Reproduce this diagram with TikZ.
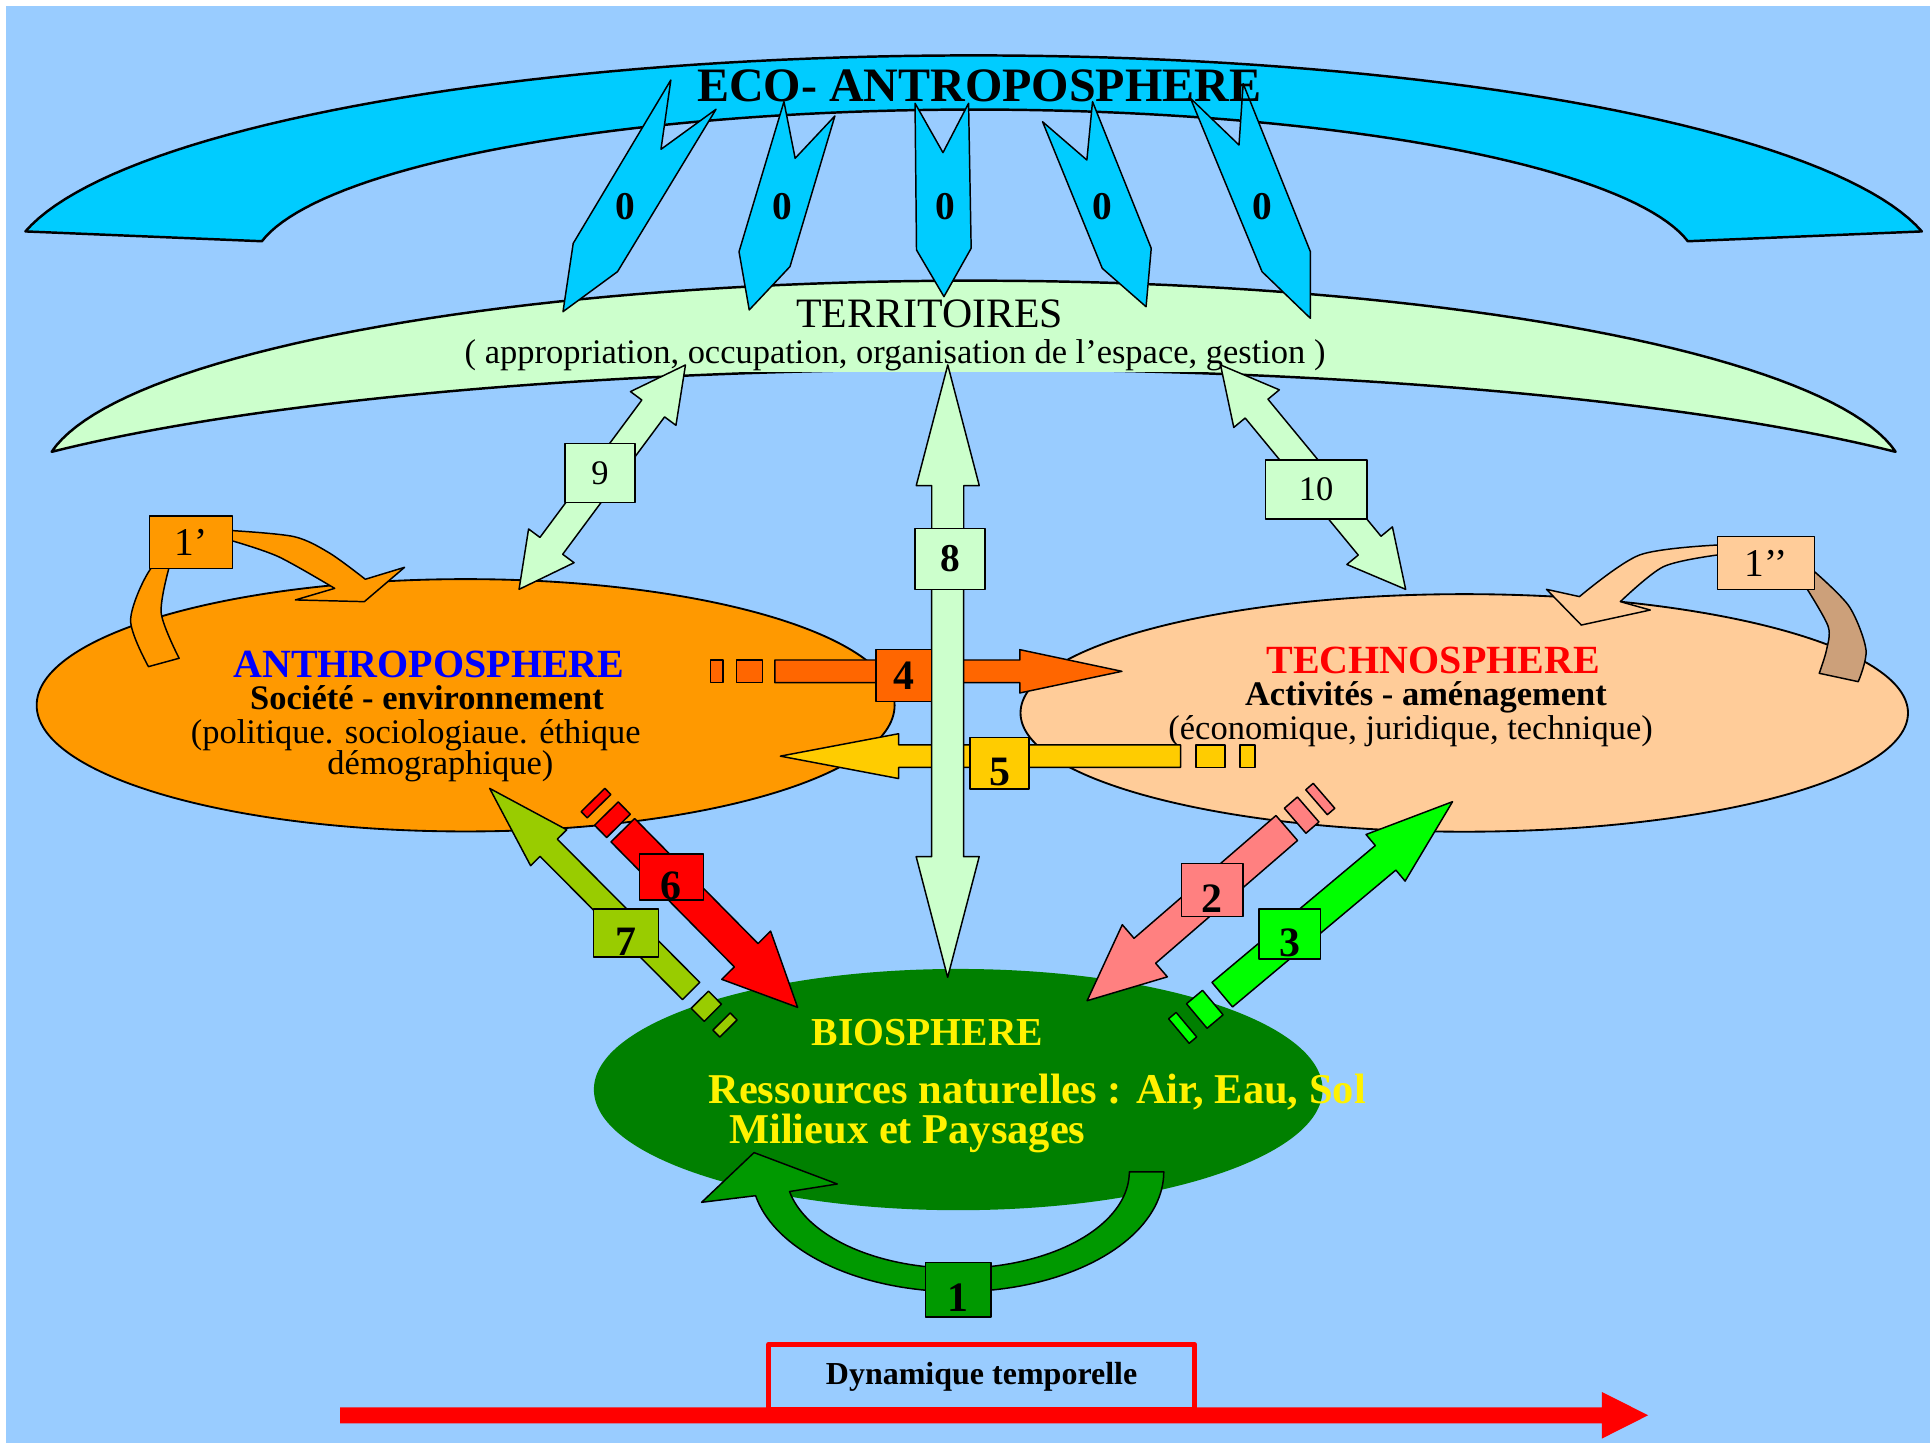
\documentclass[tikz,border=0pt]{standalone}
\usepackage{fontspec}
\setmainfont{Liberation Serif}
\usepackage{tikz}
\usetikzlibrary{calc, shapes.geometric}
\definecolor{skyback}{HTML}{99CCFF}
\definecolor{ecoblue}{HTML}{00CCFF}
\definecolor{terrgreen}{HTML}{CCFFCC}
\definecolor{anthroorange}{HTML}{FF9900}
\definecolor{technopeach}{HTML}{FFCC99}
\definecolor{technotan}{RGB}{204,160,122}
\definecolor{biogreen}{HTML}{008000}
\definecolor{cyclegreen}{HTML}{009900}
\definecolor{flowfour}{HTML}{FF6600}
\definecolor{flowfive}{HTML}{FFCC00}
\definecolor{flowsix}{HTML}{FF0000}
\definecolor{flowseven}{HTML}{99CC00}
\definecolor{flowtwo}{HTML}{FF8080}
\definecolor{flowthree}{HTML}{00FF00}
\newcommand{\txtsize}[1]{\fontsize{#1pt}{#1pt}\selectfont}
% straight block arrow: style, tail, tip, half shaft, half head, head length
\newcommand{\blockarrow}[6]{%
	\coordinate (hb) at ($(#3)!#6!(#2)$);
	\draw[#1] ($(#2)!#4!90:(#3)$) -- ($(hb)!#4!90:(#3)$) -- ($(hb)!#5!90:(#3)$) -- (#3)
		-- ($(hb)!#5!-90:(#3)$) -- ($(hb)!#4!-90:(#3)$) -- ($(#2)!#4!-90:(#3)$) -- cycle;
}
% block arrow with a head at both ends
\newcommand{\twowayarrow}[6]{%
	\coordinate (ha) at ($(#2)!#6!(#3)$);
	\coordinate (hb) at ($(#3)!#6!(#2)$);
	\draw[#1] (#2) -- ($(ha)!#5!90:(#3)$) -- ($(ha)!#4!90:(#3)$) -- ($(hb)!#4!90:(#3)$) -- ($(hb)!#5!90:(#3)$) -- (#3)
		-- ($(hb)!#5!-90:(#3)$) -- ($(hb)!#4!-90:(#3)$) -- ($(ha)!#4!-90:(#3)$) -- ($(ha)!#5!-90:(#3)$) -- cycle;
}
% small piece behind the tail of an arrow: style, tail, tip, from, to, half width
\newcommand{\tailbit}[6]{%
	\coordinate (ba) at ($(#2)!-#4!(#3)$);
	\coordinate (bb) at ($(#2)!-#5!(#3)$);
	\draw[#1] ($(ba)!#6!90:(#3)$) -- ($(bb)!#6!90:(#3)$) -- ($(bb)!#6!-90:(#3)$) -- ($(ba)!#6!-90:(#3)$) -- cycle;
}
\tikzset{%
	band/.style={draw=black, line width=2pt},
	block/.style={draw=black, line width=1.2pt},
	sphere/.style={ellipse, draw=black, line width=1.5pt, inner sep=0pt},
	numbox/.style={draw=black, line width=1.2pt, inner sep=0pt},
	zerolabel/.style={anchor=base, inner sep=0pt, font=\txtsize{32}\bfseries},
	title/.style={anchor=base, inner sep=0pt},
	lowdigit/.style={text height=36pt, text depth=0pt},
}
\begin{document}
\begin{tikzpicture}[x=1pt, y=-1pt, line join=round]
	\useasboundingbox (0,0) rectangle (1568,1172);
	% background
	\fill[skyback] (5,5) rectangle (1568,1172);

	% eco-antroposphere band
	\draw[band, fill=ecoblue] plot[domain=11.07:168.93, samples=90] ({791+785*cos(\x)}, {222-177*sin(\x)})
		-- plot[domain=170.4:9.6, samples=90] ({792+587.5*cos(\x)}, {217.4-128.4*sin(\x)}) -- cycle;

	% territoires crescent
	\draw[band, fill=terrgreen] plot[domain=8.16:171.84, samples=90] ({791+756.7*cos(\x)}, {390-162*sin(\x)})
		-- plot[domain=146.4:33.6, samples=90] ({791+899*cos(\x)}, {450-150*sin(\x)}) -- cycle;

	% the five 0 arrows
	\draw[block, fill=ecoblue] (545,65) -- (465.7,197.7) -- (457.4,253.2) -- (501.7,220.7) -- (581.7,88.8) -- (537,121.3) -- cycle;
	\draw[block, fill=ecoblue] (636.9,82.6) -- (600.4,204.5) -- (608.7,251.8) -- (641.8,216.6) -- (678.3,94.2) -- (646,128.6) -- cycle;
	\draw[block, fill=ecoblue] (743.4,83.9) -- (744.6,203.1) -- (766.9,241) -- (789,201.7) -- (786.9,83.9) -- (766.1,124) -- cycle;
	\draw[block, fill=ecoblue] (847,98.9) -- (895.5,218) -- (931.1,249.2) -- (935.3,201.7) -- (887.6,82.6) -- (883,130) -- cycle;
	\draw[block, fill=ecoblue] (967.2,79.9) -- (1025.3,220.7) -- (1064.6,258.6) -- (1064.6,204.5) -- (1010,68) -- (1006.6,117.8) -- cycle;
	\foreach \px/\nm in {508/za, 636/zb, 768.2/zc, 895.4/zd, 1025.2/ze}
		\node[zerolabel] (\nm) at (\px,178.2) {0};

	% titles of the two bands
	\node[title, font=\txtsize{39}\bfseries] (eco) at (795.5,82.1) {ECO- ANTROPOSPHERE};
	\node[title, font=\txtsize{34}] (terr) at (755.3,266.2) {TERRITOIRES};
	\node[title, font=\txtsize{28}, fill=terrgreen, inner sep=1pt] (terrsub) at (727.2,295.2) {( appropriation, occupation, organisation de l’espace, gestion )};

	% the three spheres
	\node[sphere, fill=anthroorange, minimum width=697pt, minimum height=205pt] (anthro) at (378.3,573) {};
	\node[sphere, fill=technopeach, minimum width=721pt, minimum height=193pt] (techno) at (1189.6,579.2) {};
	\node[sphere, draw=none, fill=biogreen, minimum width=592pt, minimum height=196pt] (bio) at (778.5,885.2) {};

	\node[title, font=\txtsize{32.5}\bfseries, text=blue] (anthrotitle) at (348.5,550.3) {ANTHROPOSPHERE};
	\node[title, font=\txtsize{28}\bfseries] (anthrosub) at (346.9,576.8) {Société - environnement};
	\node[title, font=\txtsize{28}] (anthrotxt) at (337.8,603.9) {(politique. sociologiaue. éthique};
	\node[title, font=\txtsize{28}] (anthrotxtb) at (357.8,629.6) {démographique)};
	\node[title, font=\txtsize{32.5}\bfseries, text=red] (technotitle) at (1164.4,547) {TECHNOSPHERE};
	\node[title, font=\txtsize{28}\bfseries] (technosub) at (1158.5,573.5) {Activités - aménagement};
	\node[title, font=\txtsize{28}] (technotxt) at (1146,600.6) {(économique, juridique, technique)};
	\node[title, font=\txtsize{32.2}\bfseries, text=yellow] (biotitle) at (753.5,849) {BIOSPHERE};
	\node[title, anchor=base west, font=\txtsize{34.5}\bfseries, text=yellow] (biosub) at (575.3,896.3) {Ressources naturelles : Air, Eau, Sol};
	\node[title, anchor=base west, font=\txtsize{34.5}\bfseries, text=yellow] (biosubb) at (592.3,929.4) {Milieux et Paysages};

	% loop 1' on the anthroposphere
	\draw[block, fill=anthroorange] plot[smooth] coordinates {(120.6,541.6) (106.1,503.7) (122.7,461.7) (150,445)}
		-- plot[smooth] coordinates {(189,431.1) (239,436) (268,449.5) (296.8,470.6)}
		-- (328.7,460.9) -- (296,488.8) -- (240,487.4)
		-- plot[smooth] coordinates {(271.9,478) (226.3,452.3) (189,439.5)}
		-- (150,452) -- plot[smooth] coordinates {(137.2,461.7) (131,498.3) (145.5,534.8)} -- cycle;
	\node[numbox, fill=anthroorange, minimum width=67.5pt, minimum height=42.5pt, font=\txtsize{32}] (b1a) at (155.2,440.5) {1’};

	% loop 1'' on the technosphere
	\draw[block, fill=technotan] (1460,470) -- plot[smooth] coordinates {(1474.1,464.4) (1502.4,492.8) (1516,528) (1509.7,553.8)}
		-- (1478,547) -- plot[smooth] coordinates {(1478,547) (1483.9,528.1) (1485.3,509.1) (1468.3,478.8)} -- cycle;
	\draw[block, fill=technopeach] (1410,444) -- plot[smooth] coordinates {(1395.2,442.8) (1332,450.9) (1283.2,484.7)}
		-- (1256.4,478.8) -- (1284.7,507.8) -- (1340.7,495.6)
		-- plot[smooth] coordinates {(1316.4,488.8) (1351.4,460.4) (1395.2,450.9)} -- (1410,450) -- cycle;
	\node[numbox, fill=technopeach, minimum width=79pt, minimum height=43pt, font=\txtsize{32}] (b1b) at (1434.7,457.4) {1’’};

	% end points of the straight arrows
	\coordinate (a9u) at (556.9,296.5);
	\coordinate (a9d) at (421.7,478.8);
	\coordinate (a10u) at (991.6,296.5);
	\coordinate (a10d) at (1142,478.8);
	\coordinate (a8u) at (770,296.5);
	\coordinate (a8d) at (769.9,794);
	\coordinate (a4s) at (629.5,545.4);
	\coordinate (a4t) at (911.5,545.4);
	\coordinate (a5s) at (959.1,614.3);
	\coordinate (a5t) at (634,614.3);
	\coordinate (a6s) at (506,674.5);
	\coordinate (a6t) at (648,818.4);
	\coordinate (a7s) at (561.5,805.1);
	\coordinate (a7t) at (397.8,640.5);
	\coordinate (a2s) at (1045.4,672.7);
	\coordinate (a2t) at (883.2,813);
	\coordinate (a3s) at (993,808.1);
	\coordinate (a3t) at (1180.1,651.3);

	% territoires links 9 and 10
	\twowayarrow{block, fill=terrgreen}{a9u}{a9d}{11.5pt}{23pt}{44pt}
	\twowayarrow{block, fill=terrgreen}{a10u}{a10d}{12pt}{24pt}{46pt}
	\node[numbox, fill=terrgreen, minimum width=57pt, minimum height=48pt, font=\txtsize{28}] (b9) at (487.5,384.3) {9};
	\node[numbox, fill=terrgreen, minimum width=82.5pt, minimum height=48pt, font=\txtsize{28}] (b10) at (1069.2,397.8) {10};

	% flows 4 and 5 between anthroposphere and technosphere
	\blockarrow{block, fill=flowfour}{a4s}{a4t}{9.2pt}{17.6pt}{83pt}
	\tailbit{block, fill=flowfour}{a4s}{a4t}{10.2pt}{31.3pt}{9.2pt}
	\tailbit{block, fill=flowfour}{a4s}{a4t}{42pt}{52.2pt}{9.2pt}
	\blockarrow{block, fill=flowfive}{a5s}{a5t}{9.2pt}{18.2pt}{96pt}
	\tailbit{block, fill=flowfive}{a5s}{a5t}{12.5pt}{36.3pt}{9.2pt}
	\tailbit{block, fill=flowfive}{a5s}{a5t}{48.2pt}{60.3pt}{9.2pt}

	% territoires link 8
	\twowayarrow{block, fill=terrgreen}{a8u}{a8d}{13pt}{25.6pt}{98pt}
	\node[numbox, fill=terrgreen, minimum width=57pt, minimum height=49.6pt, font=\txtsize{32}\bfseries] (b8) at (771.9,454) {8};
	\node[numbox, fill=flowfour, minimum width=45pt, minimum height=42.5pt, font=\txtsize{34}\bfseries] (b4) at (734.2,548.8) {4};
	\node[numbox, fill=flowfive, minimum width=48pt, minimum height=42pt, font=\txtsize{34}\bfseries, lowdigit] (b5) at (812,620) {5};

	% flows 6 and 7 with the biosphere
	\blockarrow{block, fill=flowsix}{a6s}{a6t}{13.5pt}{27.9pt}{59.5pt}
	\tailbit{block, fill=flowsix}{a6s}{a6t}{5pt}{19pt}{13.5pt}
	\tailbit{block, fill=flowsix}{a6s}{a6t}{27.5pt}{34.5pt}{13.5pt}
	\blockarrow{block, fill=flowseven}{a7s}{a7t}{9.9pt}{20.7pt}{68pt}
	\tailbit{block, fill=flowseven}{a7s}{a7t}{10pt}{25pt}{9.9pt}
	\tailbit{block, fill=flowseven}{a7s}{a7t}{35pt}{43pt}{9.9pt}
	\node[numbox, fill=flowsix, minimum width=52pt, minimum height=37.4pt, font=\txtsize{34}\bfseries, lowdigit] (b6) at (545.4,712.5) {6};
	\node[numbox, fill=flowseven, minimum width=53pt, minimum height=39pt, font=\txtsize{34}\bfseries, lowdigit] (b7) at (508.6,758.1) {7};

	% flows 2 and 3 with the biosphere
	\blockarrow{block, fill=flowtwo}{a2s}{a2t}{13.4pt}{28pt}{62pt}
	\tailbit{block, fill=flowtwo}{a2s}{a2t}{9pt}{23pt}{13.4pt}
	\tailbit{block, fill=flowtwo}{a2s}{a2t}{32pt}{40pt}{13.4pt}
	\blockarrow{block, fill=flowthree}{a3s}{a3t}{13pt}{24.7pt}{71pt}
	\tailbit{block, fill=flowthree}{a3s}{a3t}{10pt}{27pt}{13pt}
	\tailbit{block, fill=flowthree}{a3s}{a3t}{38pt}{46pt}{13pt}
	\node[numbox, fill=flowtwo, minimum width=50pt, minimum height=43pt, font=\txtsize{34}\bfseries, lowdigit] (b2) at (985,723) {2};
	\node[numbox, fill=flowthree, minimum width=50pt, minimum height=40.5pt, font=\txtsize{34}\bfseries, lowdigit] (b3) at (1047.9,758.8) {3};

	% loop 1 on the biosphere
	\draw[block, fill=cyclegreen] plot[domain=0:168.5, samples=80] ({778+167.5*cos(\x)}, {952+97.4*sin(\x)})
		-- (570,976.8) -- (612.6,936.4) -- (680.2,961.9)
		-- plot[domain=168.2:0, samples=80] ({778+139.5*cos(\x)}, {952+78.4*sin(\x)}) -- cycle;
	\node[numbox, fill=cyclegreen, minimum width=53pt, minimum height=44pt, font=\txtsize{34}\bfseries, lowdigit] (b1) at (778.5,1047.8) {1};

	% time axis
	\coordinate (dyns) at (276.4,1149.8);
	\coordinate (dynt) at (1339,1149.8);
	\node[draw=red, line width=4pt, minimum width=346pt, minimum height=53pt, inner sep=0pt, font=\txtsize{26}\bfseries] (dyn) at (797.5,1118.5) {Dynamique temporelle};
	\blockarrow{fill=red, draw=none}{dyns}{dynt}{6.5pt}{19pt}{37.7pt}
\end{tikzpicture}
\end{document}
